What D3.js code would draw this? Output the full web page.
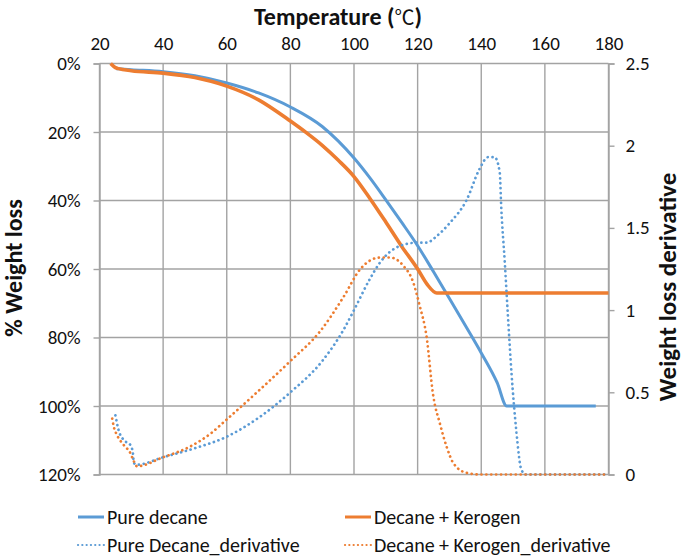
<!DOCTYPE html>
<html>
<head>
<meta charset="utf-8">
<script src="https://cdn.jsdelivr.net/npm/d3@7"></script>
<style>
  html, body { margin: 0; padding: 0; background: #fff; }
  svg { display: block; font-family: Carlito, Lato, "Open Sans", sans-serif; }
</style>
</head>
<body>
<svg id="chart" width="685" height="558"></svg>
<script>
// ---- Data ----
const xTicks = [20, 40, 60, 80, 100, 120, 140, 160, 180];
const leftTicks = [0, 20, 40, 60, 80, 100, 120];
const rightTicks = [0, 0.5, 1, 1.5, 2, 2.5];

// Pure decane (% weight loss vs temperature)
const pureT =    [25.3, 30, 40, 50, 60, 70, 80, 90, 95, 100, 105, 110, 115, 120, 125, 130, 135, 140, 145, 148, 150, 160, 170, 176];
const pureLoss = [1.5, 1.8, 2.4, 3.6, 5.7, 8.6, 12.7, 18.4, 22.6, 27.6, 33.4, 39.8, 46.4, 53.2, 60.8, 68.6, 76.5, 84.5, 93.2, 100, 100, 100, 100, 100];

// Decane + Kerogen (% weight loss vs temperature)
const kerT =    [23.5, 25, 26, 30, 40, 50, 60, 70, 80, 85, 90, 95, 100, 105, 110, 115, 120, 123, 126, 130, 140, 160, 180];
const kerLoss = [0, 1.2, 1.5, 2.1, 2.8, 4.1, 6.6, 10.6, 16.8, 20.2, 23.9, 28.2, 33, 39.4, 46.3, 53.4, 60, 64.5, 67, 67, 67, 67, 67];

// Pure Decane_derivative (right axis)
const pureDT = [25, 26, 27.6, 29.7, 30.5, 30.8, 31.8, 40, 50, 60, 70, 80, 90, 96.7, 100, 105, 108.2, 114.4, 119.7, 122.8, 126, 130.1, 135.4, 139.5, 142.1, 144.2, 145.8, 146.3, 147.4, 148.4, 149.5, 151, 152.6, 154, 165, 180];
const pureD =  [0.36, 0.27, 0.21, 0.18, 0.13, 0.07, 0.06, 0.105, 0.16, 0.23, 0.345, 0.50, 0.69, 0.88, 1.0, 1.19, 1.29, 1.39, 1.41, 1.41, 1.45, 1.53, 1.67, 1.86, 1.93, 1.93, 1.84, 1.62, 1.29, 0.96, 0.62, 0.27, 0.03, 0, 0, 0];

// Decane + Kerogen_derivative (right axis)
const kerDT = [24, 24.5, 25.5, 27.6, 29.7, 30.8, 31.8, 40, 48.5, 55, 60, 69.5, 80, 89.3, 96.7, 102, 108.2, 111.3, 115.5, 118.6, 120.6, 122.8, 124.9, 127, 129.1, 131.2, 135.4, 140, 160, 180];
const kerD =  [0.34, 0.29, 0.24, 0.18, 0.13, 0.08, 0.05, 0.105, 0.17, 0.25, 0.335, 0.5, 0.69, 0.87, 1.08, 1.25, 1.32, 1.32, 1.27, 1.17, 1.03, 0.84, 0.48, 0.31, 0.17, 0.07, 0.01, 0, 0, 0];

const series = [
  {name: "Pure decane", T: pureT, v: pureLoss, axis: "left", color: "#5B9BD5", dotted: false, w: 3},
  {name: "Decane + Kerogen", T: kerT, v: kerLoss, axis: "left", color: "#ED7D31", dotted: false, w: 3.6},
  {name: "Pure Decane_derivative", T: pureDT, v: pureD, axis: "right", color: "#5B9BD5", dotted: true, w: 2.7},
  {name: "Decane + Kerogen_derivative", T: kerDT, v: kerD, axis: "right", color: "#ED7D31", dotted: true, w: 2.7}
];

// ---- Layout ----
const svg = d3.select("#chart");
const L = 99.5, R = 608.5, T = 63.5, B = 474.5;
const x = d3.scaleLinear().domain([20, 180]).range([L, R]);
const yL = d3.scaleLinear().domain([0, 120]).range([T, B]);
const yR = d3.scaleLinear().domain([0, 2.5]).range([B, T]);
const gridColor = "#a3a3a3";
const textColor = "#111";

// gridlines
const grid = svg.append("g");
grid.selectAll("line.v").data(xTicks).join("line")
  .attr("x1", d => x(d)).attr("x2", d => x(d)).attr("y1", T).attr("y2", B)
  .attr("stroke", gridColor).attr("stroke-width", 1.4);
grid.selectAll("line.h").data(leftTicks).join("line")
  .attr("x1", L).attr("x2", R).attr("y1", d => yL(d)).attr("y2", d => yL(d))
  .attr("stroke", gridColor).attr("stroke-width", 1.4);

// axes
const axL = svg.append("g").attr("transform", `translate(${L},0)`)
  .call(d3.axisLeft(yL).tickValues(leftTicks).tickFormat(d => d + "%").tickSize(6).tickPadding(13));
const axR = svg.append("g").attr("transform", `translate(${R},0)`)
  .call(d3.axisRight(yR).tickValues(rightTicks).tickFormat(d3.format("")).tickSize(6).tickPadding(11));
const axT = svg.append("g").attr("transform", `translate(0,${T})`)
  .call(d3.axisTop(x).tickValues(xTicks).tickSize(0).tickPadding(14));
axT.select(".domain").remove();
[axL, axR].forEach(a => {
  a.select(".domain").attr("stroke", gridColor).attr("stroke-width", 1.4);
  a.selectAll(".tick line").attr("stroke", gridColor).attr("stroke-width", 1.4);
});
[axL, axR, axT].forEach(a => {
  a.selectAll(".tick text").attr("fill", textColor).style("font-size", "19px");
  a.attr("font-family", null);
});

// lines
const lineFor = s => d3.line()
  .x((d, i) => x(s.T[i]))
  .y((d, i) => s.axis === "left" ? yL(s.v[i]) : yR(s.v[i]))
  .curve(d3.curveMonotoneX);

const plot = svg.append("g");
series.forEach(s => {
  plot.append("path")
    .datum(s.v)
    .attr("d", lineFor(s))
    .attr("fill", "none")
    .attr("stroke", s.color)
    .attr("stroke-width", s.w)
    .attr("stroke-dasharray", s.dotted ? "0.1 4.8" : null)
    .attr("stroke-linecap", s.dotted ? "round" : "butt")
    .attr("stroke-linejoin", "round");
});

// titles
const tt = svg.append("text").attr("x", 338).attr("y", 24.5).attr("text-anchor", "middle")
  .attr("fill", textColor).style("font-size", "24px").style("font-weight", "bold");
tt.append("tspan").text("Temperature (");
tt.append("tspan").style("font-family", "'Noto Sans CJK SC'").style("font-weight", "normal")
  .style("font-size", "20px").text("℃");
tt.append("tspan").text(")");
svg.append("text").attr("transform", "translate(22,268) rotate(-90)").attr("text-anchor", "middle")
  .attr("fill", textColor).style("font-size", "24px").style("font-weight", "bold")
  .text("% Weight loss");
svg.append("text").attr("transform", "translate(676,287) rotate(-90)").attr("text-anchor", "middle")
  .attr("fill", textColor).style("font-size", "25px").style("font-weight", "bold")
  .text("Weight loss derivative");

// legend
const legPos = [[78, 517], [345, 517], [78, 545], [345, 545]];
const leg = svg.append("g");
series.forEach((s, i) => {
  const [lx, ly] = legPos[i];
  leg.append("line").attr("x1", lx).attr("x2", lx + 26).attr("y1", ly).attr("y2", ly)
    .attr("stroke", s.color)
    .attr("stroke-width", s.dotted ? 2.2 : 3)
    .attr("stroke-dasharray", s.dotted ? "0.1 4.2" : null)
    .attr("stroke-linecap", s.dotted ? "round" : "butt");
  leg.append("text").attr("x", lx + 29).attr("y", ly).attr("dy", "0.35em")
    .attr("fill", textColor).style("font-size", "20px").text(s.name);
});
</script>
</body>
</html>
